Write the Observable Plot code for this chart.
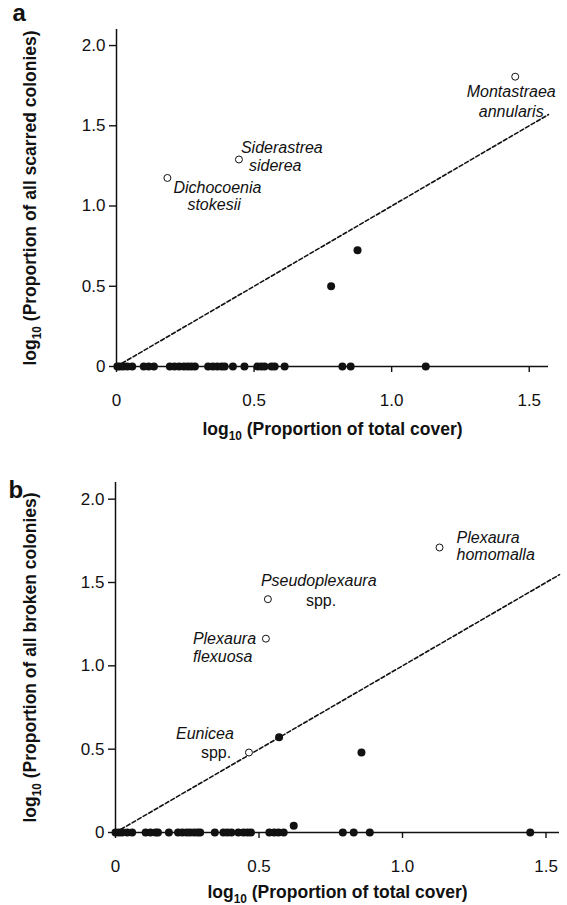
<!DOCTYPE html>
<html><head><meta charset="utf-8">
<script src="https://cdn.jsdelivr.net/npm/d3@7"></script>
<script src="https://cdn.jsdelivr.net/npm/@observablehq/plot@0.6"></script>
<style>
body{margin:0;background:#fff;}
#chart{width:567px;}
#chart svg{display:block;overflow:visible;}
</style></head><body><div id="chart"></div>
<script>
// ---- shared ticks ----
const xTicks = [0, 0.5, 1.0, 1.5];
const xTickLabels = ["0", "0.5", "1.0", "1.5"];
const yTicks = [0, 0.5, 1.0, 1.5, 2.0];
const yTickLabels = ["0", "0.5", "1.0", "1.5", "2.0"];
const xTitle = "log10 (Proportion of total cover)";

// ---- panel a ----
const zeroAx = [0.003, 0.012, 0.024, 0.039, 0.057, 0.099, 0.117, 0.136, 0.194, 0.211, 0.228, 0.245, 0.259, 0.272, 0.285, 0.333, 0.350, 0.366, 0.382, 0.393, 0.423, 0.465, 0.512, 0.526, 0.538, 0.563, 0.575, 0.611, 0.821, 0.851, 1.124];
const filledAx = [0.78, 0.876];
const filledAy = [0.50, 0.725];
const openAx = [1.449, 0.445, 0.185];
const openAy = [1.806, 1.29, 1.175];
const genusA = ["Montastraea", "Siderastrea", "Dichocoenia"];
const epithetA = ["annularis", "siderea", "stokesii"];
const yTitleA = "log10 (Proportion of all scarred colonies)";

// ---- panel b ----
const zeroBx = [0.0, 0.012, 0.023, 0.041, 0.058, 0.105, 0.122, 0.14, 0.148, 0.186, 0.218, 0.233, 0.248, 0.26, 0.274, 0.286, 0.295, 0.346, 0.376, 0.39, 0.404, 0.428, 0.446, 0.46, 0.472, 0.536, 0.553, 0.568, 0.586, 0.792, 0.83, 0.886, 1.445];
const filledBx = [0.57, 0.857, 0.621];
const filledBy = [0.572, 0.48, 0.04];
const openBx = [1.129, 0.531, 0.524, 0.465];
const openBy = [1.71, 1.40, 1.163, 0.48];
const genusB = ["Plexaura", "Pseudoplexaura", "Plexaura", "Eunicea"];
const epithetB = ["homomalla", "spp.", "flexuosa", "spp."];
const yTitleB = "log10 (Proportion of all broken colonies)";

// ---- label placement (layout, px offsets from each open point) ----
const placeA = [
  {g: [-4, 20, "middle"], e: [-4, 40, "middle"]},
  {g: [2, -6, "start"], e: [10, 12, "start"]},
  {g: [6, 15, "start"], e: [20, 32, "start"]}
];
const placeB = [
  {g: [17, -5, "start"], e: [17, 12, "start"]},
  {g: [-7, -13, "start"], e: [38, 7, "start"]},
  {g: [-73, 5, "start"], e: [-73, 23, "start"]},
  {g: [-73, -14, "start"], e: [-48, 5, "start"]}
];

const FONT = "'Liberation Sans', Arial, Helvetica, sans-serif";

function panel(cfg) {
  const zeros = cfg.zeroX.map(x => ({x, y: 0}));
  const filled = cfg.fx.map((x, i) => ({x, y: cfg.fy[i]}));
  const open = cfg.ox.map((x, i) => ({x, y: cfg.oy[i], g: cfg.genus[i], e: cfg.epithet[i]}));
  const labelMarks = [];
  open.forEach((d, i) => {
    const p = cfg.place[i];
    labelMarks.push(Plot.text([d], {x: "x", y: "y", text: "g", dx: p.g[0], dy: p.g[1], textAnchor: p.g[2],
      lineAnchor: "bottom", fontSize: 16, fontStyle: "italic", fill: "#111"}));
    labelMarks.push(Plot.text([d], {x: "x", y: "y", text: "e", dx: p.e[0], dy: p.e[1], textAnchor: p.e[2],
      lineAnchor: "bottom", fontSize: 16, fontStyle: d.e === "spp." ? "normal" : "italic", fill: "#111"}));
  });
  const svg = Plot.plot({
    width: 567,
    height: cfg.height,
    marginTop: cfg.mt, marginBottom: cfg.mb, marginLeft: cfg.ml, marginRight: cfg.mr,
    style: {fontFamily: FONT, color: "#111", background: "white", overflow: "visible"},
    x: {domain: [0, cfg.xmax]},
    y: {domain: [0, 2.1]},
    marks: [
      Plot.line([0, cfg.xmax], {x: d => d, y: d => d, stroke: "#111", strokeWidth: 1.6, strokeDasharray: "4,2.4"}),
      Plot.ruleX([0], {stroke: "#111", strokeWidth: 1.5}),
      Plot.ruleY([0], {stroke: "#111", strokeWidth: 1.5}),
      Plot.axisX({ticks: xTicks, tickFormat: d => xTickLabels[xTicks.indexOf(d)], tickSize: 6, tickPadding: 21,
        fontSize: 17, label: null, strokeWidth: 1.4}),
      Plot.axisY({ticks: yTicks, tickFormat: d => yTickLabels[yTicks.indexOf(d)], tickSize: 7, tickPadding: 4,
        fontSize: 17, label: null, strokeWidth: 1.4}),
      Plot.dot(zeros, {x: "x", y: "y", r: 4, fill: "#111", stroke: "none"}),
      Plot.dot(filled, {x: "x", y: "y", r: 4, fill: "#111", stroke: "none"}),
      Plot.dot(open, {x: "x", y: "y", r: 3.5, fill: "white", stroke: "#111", strokeWidth: 1}),
      ...labelMarks,
      Plot.text([xTitle], {frameAnchor: "bottom", dy: cfg.xTitleDy, lineAnchor: "bottom", textAnchor: "middle", fontSize: 17.5, fontWeight: "bold", fill: "#111"}),
      Plot.text([cfg.yTitle], {frameAnchor: "left", dx: cfg.yTitleDx, rotate: -90, textAnchor: "middle", lineAnchor: "middle", fontSize: 17.5, fontWeight: "bold", fill: "#111"}),
      Plot.text([cfg.tag], {frameAnchor: "top-left", dx: cfg.tagDx, dy: cfg.tagDy, lineAnchor: "bottom", textAnchor: "start", fontSize: 24, fontWeight: "bold", fill: "#111"})
    ]
  });
  // subscript "10" in log10 titles
  d3.select(svg).selectAll("text").filter(function() { return this.textContent.startsWith("log10"); })
    .each(function() {
      const rest = this.textContent.slice(5);
      const t = d3.select(this);
      t.text(null);
      t.append("tspan").text("log");
      t.append("tspan").attr("font-size", "0.68em").attr("dy", 5).text("10");
      t.append("tspan").attr("dy", -5).text(rest);
    });
  return svg;
}

const root = document.getElementById("chart");
root.appendChild(panel({
  height: 440, mt: 29, mb: 74, ml: 116, mr: 19, xmax: 1.57,
  zeroX: zeroAx, fx: filledAx, fy: filledAy, ox: openAx, oy: openAy,
  genus: genusA, epithet: epithetA, place: placeA,
  yTitle: yTitleA, yTitleDx: -86, xTitleDy: 68, tag: "a", tagDx: -104, tagDy: -9
}));
root.appendChild(panel({
  height: 465, mt: 42, mb: 73, ml: 115, mr: 8, xmax: 1.547,
  zeroX: zeroBx, fx: filledBx, fy: filledBy, ox: openBx, oy: openBy,
  genus: genusB, epithet: epithetB, place: placeB,
  yTitle: yTitleB, yTitleDx: -85, xTitleDy: 65, tag: "b", tagDx: -107, tagDy: 15
}));
</script></body></html>
